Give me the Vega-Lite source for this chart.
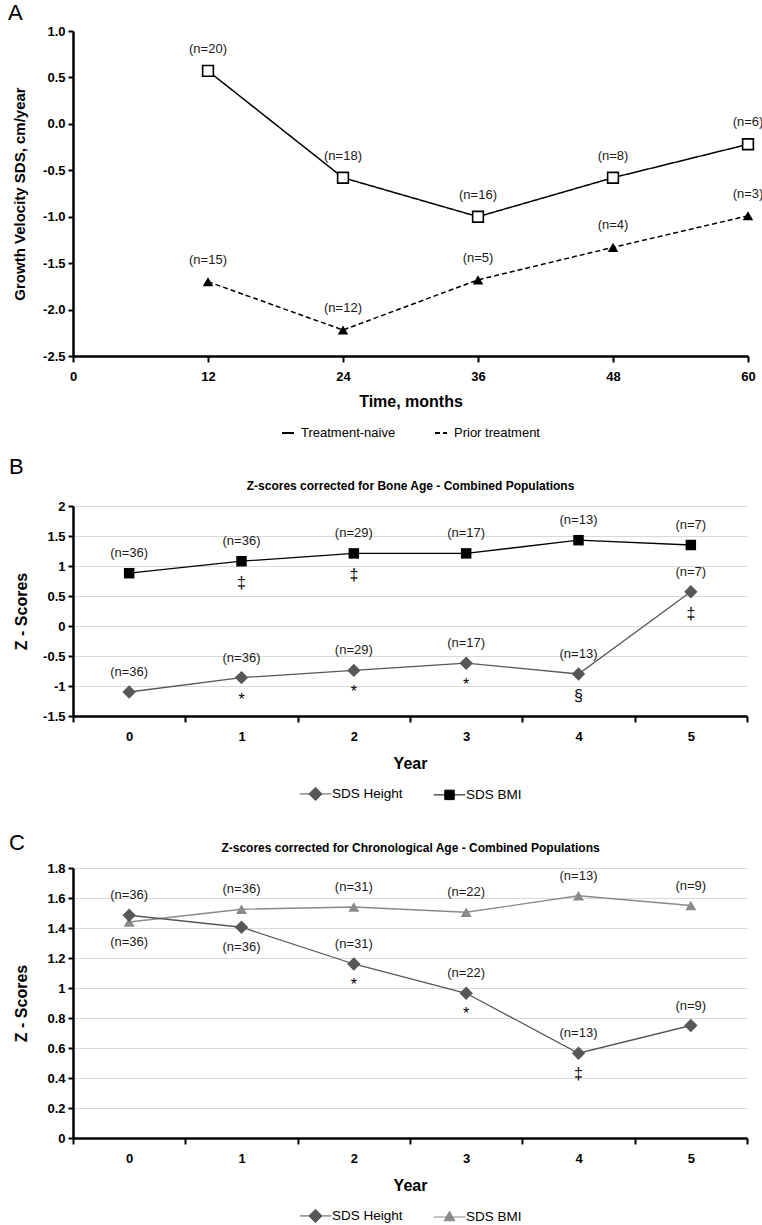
{
  "$schema": "https://vega.github.io/schema/vega-lite/v6.json",
  "padding": {"left": 8, "top": 2, "right": 2, "bottom": 0},
  "spacing": 16,
  "config": {
    "font": "Liberation Sans",
    "view": {"stroke": null},
    "locale": {"number": {"decimal": ".", "thousands": ",", "grouping": [3], "currency": ["$", ""], "minus": "-"}},
    "legend": {"layout": {"bottom": {"anchor": "middle"}}},
    "title": {"color": "black"}
  },
  "resolve": {
    "scale": {"color": "independent", "shape": "independent", "size": "independent", "strokeDash": "independent", "fill": "independent", "stroke": "independent"},
    "legend": {"color": "independent", "shape": "independent", "size": "independent", "strokeDash": "independent", "fill": "independent", "stroke": "independent"}
  },
  "vconcat": [
    {
      "width": 675,
      "height": 325,
      "title": {"text": "A", "anchor": "start", "frame": "bounds", "fontSize": 22, "fontWeight": "normal", "offset": 0, "dx": -4},
      "data": {"values": [
        {"month": 12, "series": "Treatment-naive", "value": 0.57, "n": "(n=20)"},
        {"month": 24, "series": "Treatment-naive", "value": -0.58, "n": "(n=18)"},
        {"month": 36, "series": "Treatment-naive", "value": -1.0, "n": "(n=16)"},
        {"month": 48, "series": "Treatment-naive", "value": -0.58, "n": "(n=8)"},
        {"month": 60, "series": "Treatment-naive", "value": -0.22, "n": "(n=6)"},
        {"month": 12, "series": "Prior treatment", "value": -1.70, "n": "(n=15)"},
        {"month": 24, "series": "Prior treatment", "value": -2.22, "n": "(n=12)"},
        {"month": 36, "series": "Prior treatment", "value": -1.68, "n": "(n=5)"},
        {"month": 48, "series": "Prior treatment", "value": -1.33, "n": "(n=4)"},
        {"month": 60, "series": "Prior treatment", "value": -0.99, "n": "(n=3)"}
      ]},
      "layer": [
        {
          "mark": {"type": "line", "color": "black", "strokeWidth": 1.5},
          "encoding": {
            "x": {"field": "month", "type": "quantitative", "scale": {"domain": [0, 60]},
              "axis": {"values": [0, 12, 24, 36, 48, 60], "tickCount": 30, "format": "d", "grid": false, "labelFlush": false, "labelOverlap": false,
                "domainColor": "black", "domainWidth": 2.5, "tickColor": "black", "tickWidth": 2, "tickSize": 6,
                "labelPadding": 8, "labelFontSize": 13, "labelFontWeight": "bold", "labelColor": "black",
                "title": "Time, months", "titleFontSize": 16, "titleFontWeight": "bold", "titleColor": "black", "titlePadding": 10}},
            "y": {"field": "value", "type": "quantitative", "scale": {"domain": [-2.5, 1]},
              "axis": {"values": [-2.5, -2, -1.5, -1, -0.5, 0, 0.5, 1], "tickCount": 30, "format": ".1f", "grid": false, "labelOverlap": false,
                "domainColor": "black", "domainWidth": 2.5, "tickColor": "black", "tickWidth": 2, "tickSize": 5,
                "labelPadding": 3, "labelFontSize": 13, "labelFontWeight": "bold", "labelColor": "black",
                "minExtent": 32, "maxExtent": 32,
                "title": "Growth Velocity  SDS, cm/year", "titleFontSize": 15, "titleFontWeight": "bold", "titleColor": "black", "titlePadding": 14}},
            "strokeDash": {"field": "series", "type": "nominal",
              "scale": {"domain": ["Treatment-naive", "Prior treatment"], "range": [[1, 0], [5, 3]]},
              "legend": {"orient": "bottom", "direction": "horizontal", "title": null, "offset": 17,
                "symbolType": "stroke", "symbolSize": 144, "symbolStrokeWidth": 2, "symbolStrokeColor": "black",
                "labelFontSize": 13, "labelColor": "black", "labelOffset": 6, "columnPadding": 35}}
          }
        },
        {
          "transform": [{"filter": "datum.series === 'Treatment-naive'"}],
          "mark": {"type": "point", "shape": "square", "filled": true, "fill": "white", "stroke": "black", "strokeWidth": 1.6, "size": 115, "opacity": 1},
          "encoding": {
            "x": {"field": "month", "type": "quantitative"},
            "y": {"field": "value", "type": "quantitative"}
          }
        },
        {
          "transform": [{"filter": "datum.series === 'Prior treatment'"}],
          "mark": {"type": "point", "shape": "triangle-up", "filled": true, "color": "black", "size": 110, "opacity": 1},
          "encoding": {
            "x": {"field": "month", "type": "quantitative"},
            "y": {"field": "value", "type": "quantitative"}
          }
        },
        {
          "mark": {"type": "text", "dy": -22, "fontSize": 13, "color": "#1a1a1a"},
          "encoding": {
            "x": {"field": "month", "type": "quantitative"},
            "y": {"field": "value", "type": "quantitative"},
            "text": {"field": "n"}
          }
        }
      ]
    },
    {
      "width": 674,
      "height": 210,
      "title": {"text": "B", "anchor": "start", "frame": "bounds", "fontSize": 22, "fontWeight": "normal", "offset": 0, "dx": -4},
      "data": {"values": [
        {"year": 0, "series": "SDS Height", "z": -1.10, "n": "(n=36)", "sig": ""},
        {"year": 1, "series": "SDS Height", "z": -0.86, "n": "(n=36)", "sig": "*"},
        {"year": 2, "series": "SDS Height", "z": -0.74, "n": "(n=29)", "sig": "*"},
        {"year": 3, "series": "SDS Height", "z": -0.62, "n": "(n=17)", "sig": "*"},
        {"year": 4, "series": "SDS Height", "z": -0.80, "n": "(n=13)", "sig": "§"},
        {"year": 5, "series": "SDS Height", "z": 0.57, "n": "(n=7)", "sig": "‡"},
        {"year": 0, "series": "SDS BMI", "z": 0.88, "n": "(n=36)", "sig": ""},
        {"year": 1, "series": "SDS BMI", "z": 1.08, "n": "(n=36)", "sig": "‡"},
        {"year": 2, "series": "SDS BMI", "z": 1.21, "n": "(n=29)", "sig": "‡"},
        {"year": 3, "series": "SDS BMI", "z": 1.21, "n": "(n=17)", "sig": ""},
        {"year": 4, "series": "SDS BMI", "z": 1.43, "n": "(n=13)", "sig": ""},
        {"year": 5, "series": "SDS BMI", "z": 1.35, "n": "(n=7)", "sig": ""}
      ]},
      "layer": [
        {
          "transform": [{"filter": "datum.series === 'SDS Height'"}],
          "mark": {"type": "line", "color": "#575757", "strokeWidth": 1.3},
          "encoding": {
            "x": {"field": "year", "type": "ordinal", "scale": {"type": "band", "paddingInner": 0, "paddingOuter": 0, "domain": [0, 1, 2, 3, 4, 5]},
              "axis": {"orient": "bottom", "tickBand": "extent", "labelAngle": 0, "grid": false,
                "domainColor": "black", "domainWidth": 2.5, "tickColor": "black", "tickWidth": 2, "tickSize": 6,
                "labelPadding": 8, "labelFontSize": 13, "labelFontWeight": "bold", "labelColor": "black",
                "title": "Year", "titleFontSize": 16, "titleFontWeight": "bold", "titleColor": "black", "titlePadding": 12}},
            "y": {"field": "z", "type": "quantitative", "scale": {"domain": [-1.5, 2]},
              "axis": {"values": [-1.5, -1, -0.5, 0, 0.5, 1, 1.5, 2], "tickCount": 30, "format": "~g", "grid": true, "gridColor": "#d9d9d9", "gridWidth": 1, "labelOverlap": false,
                "domainColor": "black", "domainWidth": 2.5, "tickColor": "black", "tickWidth": 2, "tickSize": 5,
                "labelPadding": 3, "labelFontSize": 13, "labelFontWeight": "bold", "labelColor": "black",
                "minExtent": 32, "maxExtent": 32,
                "title": "Z - Scores", "titleFontSize": 16, "titleFontWeight": "bold", "titleColor": "black", "titlePadding": 12}}
          }
        },
        {
          "transform": [{"filter": "datum.series === 'SDS BMI'"}],
          "mark": {"type": "line", "color": "black", "strokeWidth": 1.3},
          "encoding": {
            "x": {"field": "year", "type": "ordinal", "axis": null},
            "y": {"field": "z", "type": "quantitative"}
          }
        },
        {
          "transform": [{"filter": "datum.series === 'SDS Height'"}],
          "mark": {"type": "point", "shape": "diamond", "filled": true, "color": "#575757", "size": 180, "opacity": 1},
          "encoding": {
            "x": {"field": "year", "type": "ordinal", "axis": null},
            "y": {"field": "z", "type": "quantitative"}
          }
        },
        {
          "transform": [{"filter": "datum.series === 'SDS BMI'"}],
          "mark": {"type": "point", "shape": "square", "filled": true, "color": "black", "size": 110, "opacity": 1},
          "encoding": {
            "x": {"field": "year", "type": "ordinal", "axis": null},
            "y": {"field": "z", "type": "quantitative"}
          }
        },
        {
          "mark": {"type": "point", "filled": true, "opacity": 0},
          "encoding": {
            "x": {"field": "year", "type": "ordinal", "axis": null},
            "y": {"field": "z", "type": "quantitative"},
            "shape": {"field": "series", "type": "nominal",
              "scale": {"domain": ["SDS Height", "SDS BMI"], "range": ["M-1,0H1M0,-0.42L0.42,0L0,0.42L-0.42,0Z", "M-1,0H1M-0.3,-0.3H0.3V0.3H-0.3Z"]},
              "legend": {"orient": "bottom", "direction": "horizontal", "title": null, "offset": -7, "padding": 13,
                "symbolSize": 1000, "symbolStrokeWidth": 1, "symbolOpacity": 1,
                "labelFontSize": 13.5, "labelColor": "black", "labelOffset": 0, "columnPadding": 28}},
            "fill": {"field": "series", "type": "nominal", "scale": {"domain": ["SDS Height", "SDS BMI"], "range": ["#575757", "#000000"]}},
            "stroke": {"field": "series", "type": "nominal", "scale": {"domain": ["SDS Height", "SDS BMI"], "range": ["#575757", "#000000"]}}
          }
        },
        {
          "mark": {"type": "text", "dy": -20, "fontSize": 13, "color": "#1a1a1a"},
          "encoding": {
            "x": {"field": "year", "type": "ordinal",
              "axis": {"orient": "top", "labels": false, "ticks": false, "domain": false, "grid": false,
                "title": "Z-scores corrected for Bone Age - Combined Populations", "titleFontSize": 12, "titleFontWeight": "bold", "titleColor": "black", "titlePadding": 14}},
            "y": {"field": "z", "type": "quantitative"},
            "text": {"field": "n"}
          }
        },
        {
          "transform": [{"filter": "datum.sig !== ''"}],
          "mark": {"type": "text", "dy": 22, "fontSize": 16, "color": "black"},
          "encoding": {
            "x": {"field": "year", "type": "ordinal", "axis": null},
            "y": {"field": "z", "type": "quantitative"},
            "text": {"field": "sig"}
          }
        }
      ],
      "resolve": {"axis": {"x": "independent"}}
    },
    {
      "width": 674,
      "height": 270,
      "title": {"text": "C", "anchor": "start", "frame": "bounds", "fontSize": 22, "fontWeight": "normal", "offset": -14, "dx": -4},
      "data": {"values": [
        {"year": 0, "series": "SDS BMI", "z": 1.44, "n": "(n=36)", "sig": ""},
        {"year": 1, "series": "SDS BMI", "z": 1.525, "n": "(n=36)", "sig": ""},
        {"year": 2, "series": "SDS BMI", "z": 1.54, "n": "(n=31)", "sig": ""},
        {"year": 3, "series": "SDS BMI", "z": 1.505, "n": "(n=22)", "sig": ""},
        {"year": 4, "series": "SDS BMI", "z": 1.615, "n": "(n=13)", "sig": ""},
        {"year": 5, "series": "SDS BMI", "z": 1.55, "n": "(n=9)", "sig": ""},
        {"year": 0, "series": "SDS Height", "z": 1.485, "n": "(n=36)", "sig": ""},
        {"year": 1, "series": "SDS Height", "z": 1.405, "n": "(n=36)", "sig": ""},
        {"year": 2, "series": "SDS Height", "z": 1.16, "n": "(n=31)", "sig": "*"},
        {"year": 3, "series": "SDS Height", "z": 0.965, "n": "(n=22)", "sig": "*"},
        {"year": 4, "series": "SDS Height", "z": 0.565, "n": "(n=13)", "sig": "‡"},
        {"year": 5, "series": "SDS Height", "z": 0.75, "n": "(n=9)", "sig": ""}
      ]},
      "layer": [
        {
          "transform": [{"filter": "datum.series === 'SDS BMI'"}],
          "mark": {"type": "line", "color": "#8a8a8a", "strokeWidth": 1.3},
          "encoding": {
            "x": {"field": "year", "type": "ordinal", "scale": {"type": "band", "paddingInner": 0, "paddingOuter": 0, "domain": [0, 1, 2, 3, 4, 5]},
              "axis": {"orient": "bottom", "tickBand": "extent", "labelAngle": 0, "grid": false,
                "domainColor": "black", "domainWidth": 2.5, "tickColor": "black", "tickWidth": 2, "tickSize": 6,
                "labelPadding": 8, "labelFontSize": 13, "labelFontWeight": "bold", "labelColor": "black",
                "title": "Year", "titleFontSize": 16, "titleFontWeight": "bold", "titleColor": "black", "titlePadding": 12}},
            "y": {"field": "z", "type": "quantitative", "scale": {"domain": [0, 1.8]},
              "axis": {"values": [0, 0.2, 0.4, 0.6, 0.8, 1, 1.2, 1.4, 1.6, 1.8], "tickCount": 30, "format": "~g", "grid": true, "gridColor": "#d9d9d9", "gridWidth": 1, "labelOverlap": false,
                "domainColor": "black", "domainWidth": 2.5, "tickColor": "black", "tickWidth": 2, "tickSize": 5,
                "labelPadding": 3, "labelFontSize": 13, "labelFontWeight": "bold", "labelColor": "black",
                "minExtent": 32, "maxExtent": 32,
                "title": "Z - Scores", "titleFontSize": 16, "titleFontWeight": "bold", "titleColor": "black", "titlePadding": 12}}
          }
        },
        {
          "transform": [{"filter": "datum.series === 'SDS Height'"}],
          "mark": {"type": "line", "color": "#575757", "strokeWidth": 1.3},
          "encoding": {
            "x": {"field": "year", "type": "ordinal", "axis": null},
            "y": {"field": "z", "type": "quantitative"}
          }
        },
        {
          "transform": [{"filter": "datum.series === 'SDS BMI'"}],
          "mark": {"type": "point", "shape": "triangle-up", "filled": true, "color": "#8a8a8a", "size": 120, "opacity": 1},
          "encoding": {
            "x": {"field": "year", "type": "ordinal", "axis": null},
            "y": {"field": "z", "type": "quantitative"}
          }
        },
        {
          "transform": [{"filter": "datum.series === 'SDS Height'"}],
          "mark": {"type": "point", "shape": "diamond", "filled": true, "color": "#575757", "size": 180, "opacity": 1},
          "encoding": {
            "x": {"field": "year", "type": "ordinal", "axis": null},
            "y": {"field": "z", "type": "quantitative"}
          }
        },
        {
          "mark": {"type": "point", "filled": true, "opacity": 0},
          "encoding": {
            "x": {"field": "year", "type": "ordinal", "axis": null},
            "y": {"field": "z", "type": "quantitative"},
            "shape": {"field": "series", "type": "nominal",
              "scale": {"domain": ["SDS Height", "SDS BMI"], "range": ["M-1,0H1M0,-0.42L0.42,0L0,0.42L-0.42,0Z", "M-1,0H1M0,-0.36L0.34,0.24L-0.34,0.24Z"]},
              "legend": {"orient": "bottom", "direction": "horizontal", "title": null, "offset": 0, "padding": 6,
                "symbolSize": 1000, "symbolStrokeWidth": 1, "symbolOpacity": 1,
                "labelFontSize": 13.5, "labelColor": "black", "labelOffset": 0, "columnPadding": 28}},
            "fill": {"field": "series", "type": "nominal", "scale": {"domain": ["SDS Height", "SDS BMI"], "range": ["#575757", "#8a8a8a"]}},
            "stroke": {"field": "series", "type": "nominal", "scale": {"domain": ["SDS Height", "SDS BMI"], "range": ["#575757", "#8a8a8a"]}}
          }
        },
        {
          "transform": [{"filter": "!((datum.series === 'SDS Height' && datum.year === 1) || (datum.series === 'SDS BMI' && datum.year === 0))"}],
          "mark": {"type": "text", "dy": -20, "fontSize": 13, "color": "#1a1a1a"},
          "encoding": {
            "x": {"field": "year", "type": "ordinal",
              "axis": {"orient": "top", "labels": false, "ticks": false, "domain": false, "grid": false,
                "title": "Z-scores corrected for Chronological Age - Combined Populations", "titleFontSize": 12, "titleFontWeight": "bold", "titleColor": "black", "titlePadding": 14}},
            "y": {"field": "z", "type": "quantitative"},
            "text": {"field": "n"}
          }
        },
        {
          "transform": [{"filter": "(datum.series === 'SDS Height' && datum.year === 1) || (datum.series === 'SDS BMI' && datum.year === 0)"}],
          "mark": {"type": "text", "dy": 20, "fontSize": 13, "color": "#1a1a1a"},
          "encoding": {
            "x": {"field": "year", "type": "ordinal", "axis": null},
            "y": {"field": "z", "type": "quantitative"},
            "text": {"field": "n"}
          }
        },
        {
          "transform": [{"filter": "datum.sig !== ''"}],
          "mark": {"type": "text", "dy": 21, "fontSize": 16, "color": "black"},
          "encoding": {
            "x": {"field": "year", "type": "ordinal", "axis": null},
            "y": {"field": "z", "type": "quantitative"},
            "text": {"field": "sig"}
          }
        }
      ],
      "resolve": {"axis": {"x": "independent"}}
    }
  ]
}
